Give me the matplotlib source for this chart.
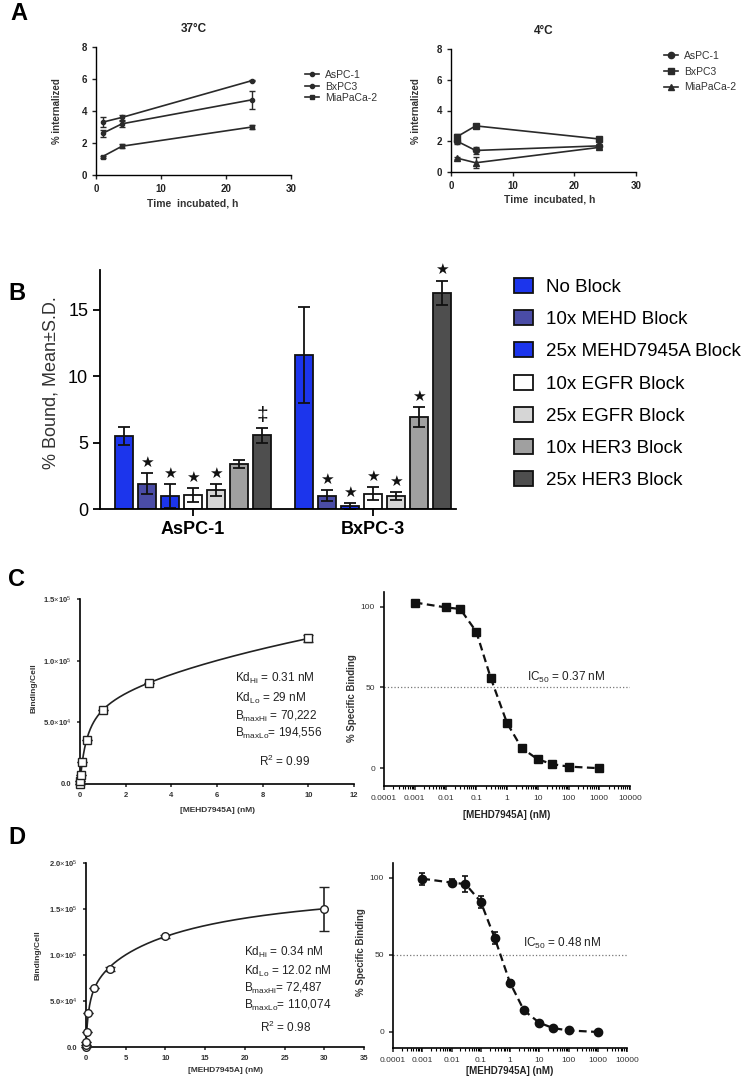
import numpy as np
import matplotlib
matplotlib.use('Agg')
import matplotlib.pyplot as plt
from matplotlib.ticker import LogLocator, NullFormatter

plt.rcParams['font.family'] = ['Liberation Sans', 'DejaVu Sans']
plt.rcParams['mathtext.fontset'] = 'custom'
plt.rcParams['mathtext.rm'] = 'Liberation Sans'
plt.rcParams['mathtext.it'] = 'Liberation Sans:italic'
plt.rcParams['mathtext.bf'] = 'Liberation Sans:bold'

W, H = 750, 1079

# ---- panel A: internalization ----
times = [1, 4, 24]
cell_lines = ['AsPC-1', 'BxPC3', 'MiaPaCa-2']
int_37 = [[3.3, 3.6, 5.9], [2.6, 3.2, 4.7], [1.15, 1.8, 3.0]]
int_37_err = [[0.3, 0.15, 0.05], [0.2, 0.2, 0.55], [0.06, 0.12, 0.15]]
int_4 = [[2.0, 1.4, 1.7], [2.3, 3.0, 2.15], [0.9, 0.6, 1.6]]
int_4_err = [[0.15, 0.2, 0.1], [0.2, 0.1, 0.1], [0.05, 0.35, 0.1]]

# ---- panel B: blocking ----
groups = ['AsPC-1', 'BxPC-3']
conditions = ['No Block', '10x MEHD Block', '25x MEHD7945A Block', '10x EGFR Block',
              '25x EGFR Block', '10x HER3 Block', '25x HER3 Block']
bound_aspc = [5.5, 1.9, 1.0, 1.05, 1.4, 3.4, 5.55]
bound_aspc_sd = [0.65, 0.8, 0.9, 0.5, 0.45, 0.3, 0.55]
bound_bxpc = [11.6, 1.0, 0.2, 1.15, 0.95, 6.9, 16.3]
bound_bxpc_sd = [3.6, 0.4, 0.25, 0.5, 0.3, 0.75, 0.9]
marks_aspc = ['', '★', '★', '★', '★', '', '‡']
marks_bxpc = ['', '★', '★', '★', '★', '★', '★']
bar_colors = ['#1c35ec', '#4a4ca6', '#1c35ec', '#ffffff', '#d6d6d6', '#a0a0a0', '#4e4e4e']

# ---- panel C: saturation binding AsPC-1 ----
conc_c = [0, 0.01, 0.03, 0.1, 0.3, 1, 3, 10]
bind_c = [0, 2500, 7000, 18000, 36000, 60000, 81500, 118000]
bind_c_err = [0, 0, 0, 0, 0, 0, 0, 3000]
kd_hi_c, kd_lo_c, bmax_hi_c, bmax_lo_c = 0.31, 29, 70222, 194556

conc_comp = [0.001, 0.01, 0.03, 0.1, 0.3, 1, 3, 10, 30, 100, 1000]
spec_c = [102.5, 99.5, 98.5, 84.5, 55.5, 28, 12.5, 5.5, 2.5, 1, 0]

# ---- panel D: saturation binding BxPC-3 ----
conc_d = [0, 0.01, 0.03, 0.1, 0.3, 1, 3, 10, 30]
bind_d = [0, 2000, 5400, 16300, 37000, 64000, 85000, 120500, 150000]
bind_d_err = [0, 0, 0, 0, 0, 0, 2500, 1500, 24000]
kd_hi_d, kd_lo_d, bmax_hi_d, bmax_lo_d = 0.34, 12.02, 72487, 110074

spec_d = [99.5, 97, 96, 84.5, 61, 32, 14, 6, 2.5, 1, 0]
spec_d_err = [4, 2, 5, 4, 4, 1.5, 1.5, 1, 1, 1, 1]


def add_ax(left, top, right, bottom):
    return fig.add_axes([left / W, 1 - bottom / H, (right - left) / W, (bottom - top) / H])


def prism(ax, lw=1.0, length=3):
    ax.spines['top'].set_visible(False)
    ax.spines['right'].set_visible(False)
    ax.spines['left'].set_linewidth(lw)
    ax.spines['bottom'].set_linewidth(lw)
    ax.tick_params(direction='out', width=lw, length=length)


def fig_xy(x, y):
    return x / W, 1 - y / H


def two_site(x, kd_hi, kd_lo, bmax_hi, bmax_lo):
    return bmax_hi * x / (kd_hi + x) + bmax_lo * x / (kd_lo + x)


fig = plt.figure(figsize=(W / 100, H / 100), dpi=100)

for letter, (x, y) in zip('ABCD', [(10, 14), (8, 293), (8, 580), (8, 837)]):
    fig.text(x / W, 1 - y / H, letter, fontsize=17, fontweight='bold', ha='left', va='center')

# ---------- A ----------
a_specs = [
    dict(box=(96, 47, 291, 175), title='37°C', data=int_37, err=int_37_err,
         markers=['o', 'o', 's'], ms=3, leg=(305, 70), ls=0.15, ylab=(62, 111), xlab=(193, 199)),
    dict(box=(451, 49, 636, 172), title='4°C', data=int_4, err=int_4_err,
         markers=['o', 's', '^'], ms=4.5, leg=(664, 51), ls=0.55, ylab=(421, 111), xlab=(550, 195)),
]
for spec in a_specs:
    ax = add_ax(*spec['box'])
    prism(ax, lw=1.0)
    for name, vals, errs, mk in zip(cell_lines, spec['data'], spec['err'], spec['markers']):
        ax.errorbar(times, vals, yerr=errs, fmt='none', ecolor='#2a2a2a', capsize=2, capthick=1,
                    elinewidth=1, clip_on=False)
        ax.plot(times, vals, color='#2a2a2a', lw=1.2, marker=mk, ms=spec['ms'], label=name, clip_on=False)
    ax.set_xlim(0, 30)
    ax.set_ylim(0, 8)
    ax.set_xticks([0, 10, 20, 30])
    ax.set_yticks([0, 2, 4, 6, 8])
    ax.tick_params(labelsize=7, colors='#222222')
    for lab in ax.get_xticklabels() + ax.get_yticklabels():
        lab.set_fontweight('bold')
    ax.set_title(spec['title'], fontsize=8.5, fontweight='bold', pad=11, color='#222222')
    ax.set_ylabel('% internalized', fontsize=7, fontweight='bold', color='#333333')
    ax.yaxis.set_label_coords(*fig_xy(*spec['ylab']), transform=fig.transFigure)
    ax.set_xlabel('Time  incubated, h', fontsize=7.5, fontweight='bold', color='#333333')
    ax.xaxis.set_label_coords(*fig_xy(*spec['xlab']), transform=fig.transFigure)
    ax.legend(loc='upper left', bbox_to_anchor=fig_xy(*spec['leg']), bbox_transform=fig.transFigure,
              frameon=False, fontsize=7.5, labelspacing=spec['ls'], handlelength=1.3,
              handletextpad=0.6, borderpad=0, borderaxespad=0, labelcolor='#333333')

# ---------- B ----------
axb = add_ax(100, 270, 456, 509)
prism(axb, lw=1.3, length=5)
centers = np.array([0, 7.83])
for i, cond in enumerate(conditions):
    xs = centers + (i - 3)
    vals = [bound_aspc[i], bound_bxpc[i]]
    sds = [bound_aspc_sd[i], bound_bxpc_sd[i]]
    axb.bar(xs, vals, width=0.78, color=bar_colors[i], edgecolor='#111111', linewidth=1.3, label=cond)
    axb.errorbar(xs, vals, yerr=sds, fmt='none', ecolor='#111111', elinewidth=1.3, capsize=4.5, capthick=1.3)
    for x, v, s, m in zip(xs, vals, sds, [marks_aspc[i], marks_bxpc[i]]):
        if m:
            fs = 15 if m == '‡' else 11
            axb.text(x, v + s + 0.25, m, ha='center', va='bottom', fontsize=fs, color='#111111')
axb.set_xlim(-4.04, 11.43)
axb.set_ylim(0, 18)
axb.set_yticks([0, 5, 10, 15])
axb.set_xticks(centers)
axb.set_xticklabels(groups, fontsize=13, fontweight='bold')
axb.tick_params(axis='y', labelsize=13)
axb.set_ylabel('% Bound, Mean±S.D.', fontsize=13, color='#333333')
axb.yaxis.set_label_coords(*fig_xy(59, 383), transform=fig.transFigure)
fig.legend(*axb.get_legend_handles_labels(), loc='upper left', bbox_to_anchor=fig_xy(514, 278),
           frameon=False, fontsize=13.5, labelspacing=0.76, handlelength=1.0, handleheight=0.85,
           handletextpad=0.7, borderpad=0, borderaxespad=0)

# ---------- C / D saturation ----------
sat_specs = [
    dict(box=(80, 599, 354, 784), conc=conc_c, bind=bind_c, err=bind_c_err, mk='s',
         params=(kd_hi_c, kd_lo_c, bmax_hi_c, bmax_lo_c), xmax=12, xt=range(0, 13, 2), xfit=10,
         ymax=1.5e5, yt=[0, 5e4, 1e5, 1.5e5],
         ytl=['0.0', r'5.0$\times$10$^4$', r'1.0$\times$10$^5$', r'1.5$\times$10$^5$'],
         text=[r'Kd$_{\rm Hi}$ = 0.31 nM', r'Kd$_{\rm Lo}$ = 29 nM', r'B$_{\rm maxHi}$ = 70,222',
               r'B$_{\rm maxLo}$= 194,556'],
         ty=[678, 698, 716, 733], tx=235, r2=r'R$^2$ = 0.99', r2xy=(259, 761),
         ylab=(37, 688), xlab=(218, 807)),
    dict(box=(86, 863, 364, 1047), conc=conc_d, bind=bind_d, err=bind_d_err, mk='o',
         params=(kd_hi_d, kd_lo_d, bmax_hi_d, bmax_lo_d), xmax=35, xt=range(0, 36, 5), xfit=30,
         ymax=2e5, yt=[0, 5e4, 1e5, 1.5e5, 2e5],
         ytl=['0.0', r'5.0$\times$10$^4$', r'1.0$\times$10$^5$', r'1.5$\times$10$^5$', r'2.0$\times$10$^5$'],
         text=[r'Kd$_{\rm Hi}$ = 0.34 nM', r'Kd$_{\rm Lo}$ = 12.02 nM', r'B$_{\rm maxHi}$= 72,487',
               r'B$_{\rm maxLo}$= 110,074'],
         ty=[952, 971, 988, 1005], tx=244, r2=r'R$^2$ = 0.98', r2xy=(260, 1027),
         ylab=(42, 955), xlab=(225, 1067)),
]
for spec in sat_specs:
    ax = add_ax(*spec['box'])
    prism(ax, lw=1.2, length=2.5)
    xfit = np.linspace(0, spec['xfit'], 400)
    ax.plot(xfit, two_site(xfit, *spec['params']), color='#222222', lw=1.2)
    ax.errorbar(spec['conc'], spec['bind'], yerr=spec['err'], fmt=spec['mk'], ms=5.5, mfc='white',
                mec='#222222', mew=1.0, ecolor='#222222', elinewidth=1.2, capsize=3.5, capthick=1.2,
                clip_on=False, zorder=3)
    ax.set_xlim(0, spec['xmax'])
    ax.set_ylim(0, spec['ymax'])
    ax.set_xticks(list(spec['xt']))
    ax.set_yticks(spec['yt'])
    ax.set_yticklabels(spec['ytl'])
    ax.tick_params(labelsize=5.5, colors='#333333')
    for lab in ax.get_xticklabels() + ax.get_yticklabels():
        lab.set_fontweight('bold')
    for t, y in zip(spec['text'], spec['ty']):
        fig.text(spec['tx'] / W, 1 - y / H, t, fontsize=8.5, va='center', ha='left', color='#222222')
    fig.text(spec['r2xy'][0] / W, 1 - spec['r2xy'][1] / H, spec['r2'], fontsize=8.5, va='center',
             ha='left', color='#222222')
    ax.set_ylabel('Binding/Cell', fontsize=6, fontweight='bold', color='#333333')
    ax.yaxis.set_label_coords(*fig_xy(*spec['ylab']), transform=fig.transFigure)
    ax.set_xlabel('[MEHD7945A] (nM)', fontsize=6, fontweight='bold', color='#333333')
    ax.xaxis.set_label_coords(*fig_xy(*spec['xlab']), transform=fig.transFigure)

# ---------- C / D competition ----------
comp_specs = [
    dict(box=(384, 592, 630, 786), vals=spec_c, err=None, mk='s', ylim=(-11, 109),
         ic=r'IC$_{50}$ = 0.37 nM', icxy=(527, 677), ylab=(357, 698), xlab=(507, 810)),
    dict(box=(393, 863, 627, 1048), vals=spec_d, err=spec_d_err, mk='o', ylim=(-10.4, 109.7),
         ic=r'IC$_{50}$ = 0.48 nM', icxy=(523, 943), ylab=(366, 952), xlab=(510, 1066)),
]
for spec in comp_specs:
    ax = add_ax(*spec['box'])
    prism(ax, lw=1.2, length=3)
    ax.set_xscale('log')
    ax.axhline(50, color='#777777', ls=':', lw=0.9)
    ax.errorbar(conc_comp, spec['vals'], yerr=spec['err'], fmt=spec['mk'], ls=(0, (3.5, 2)), lw=1.6,
                color='#111111', ms=6, ecolor='#111111', elinewidth=1.2, capsize=2.5, capthick=1.2,
                clip_on=False, zorder=3)
    ax.set_xlim(1e-4, 1e4)
    ax.set_ylim(*spec['ylim'])
    ax.set_xticks([1e-4, 1e-3, 1e-2, 1e-1, 1, 10, 100, 1000, 10000])
    ax.set_xticklabels(['0.0001', '0.001', '0.01', '0.1', '1', '10', '100', '1000', '10000'])
    ax.xaxis.set_minor_locator(LogLocator(base=10, subs=np.arange(2, 10), numticks=20))
    ax.xaxis.set_minor_formatter(NullFormatter())
    ax.tick_params(which='minor', direction='out', length=2, width=0.8)
    ax.set_yticks([0, 50, 100])
    ax.tick_params(labelsize=6, colors='#333333')
    fig.text(spec['icxy'][0] / W, 1 - spec['icxy'][1] / H, spec['ic'], fontsize=8.5, va='center',
             ha='left', color='#222222')
    ax.set_ylabel('% Specific Binding', fontsize=7, fontweight='bold', color='#333333')
    ax.yaxis.set_label_coords(*fig_xy(*spec['ylab']), transform=fig.transFigure)
    ax.set_xlabel('[MEHD7945A] (nM)', fontsize=7, fontweight='bold', color='#222222')
    ax.xaxis.set_label_coords(*fig_xy(*spec['xlab']), transform=fig.transFigure)

fig.savefig('out.png', dpi=100)
